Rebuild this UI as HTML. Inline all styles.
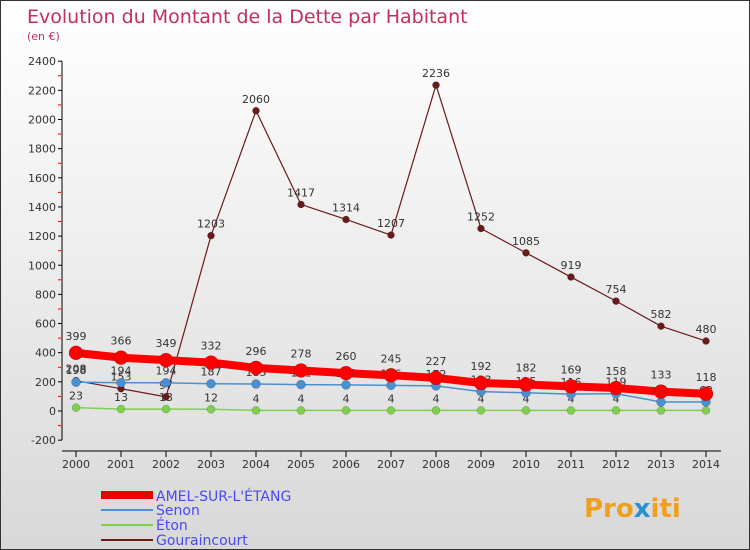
<!DOCTYPE html>
<html><head><meta charset="utf-8"><style>
body{margin:0;}
#wrap{position:relative;width:748px;height:548px;border:1px solid #333;background:linear-gradient(#fff 0%,#f4f4f4 30%,#d8d8d8 100%);font-family:"DejaVu Sans","Liberation Sans",sans-serif;overflow:hidden}
svg text{font-family:"DejaVu Sans","Liberation Sans",sans-serif}
</style></head><body>
<div id="wrap">
<svg id="c" width="748" height="548">
<text x="26" y="22" font-size="19" fill="#c0305a">Evolution du Montant de la Dette par Habitant</text>
<text x="26" y="39" font-size="11" fill="#c0305a">(en €)</text>
<g id="axes"></g><g id="series"></g>
<g>
<line x1="100" y1="494" x2="152" y2="494" stroke="#e00" stroke-width="8"/>
<text x="155" y="500" font-size="14" fill="#4a4aee">AMEL-SUR-L'ÉTANG</text>
<line x1="100" y1="509" x2="152" y2="509" stroke="#4a90d0" stroke-width="2"/>
<text x="155" y="514" font-size="14" fill="#4a4aee">Senon</text>
<line x1="100" y1="524" x2="152" y2="524" stroke="#80d050" stroke-width="2"/>
<text x="155" y="529" font-size="14" fill="#4a4aee">Éton</text>
<line x1="100" y1="539" x2="152" y2="539" stroke="#6b1a1a" stroke-width="2"/>
<text x="155" y="544" font-size="14" fill="#4a4aee">Gouraincourt</text>
</g>
<text x="583" y="516" font-size="26" font-weight="bold" fill="#f0a020">Pro<tspan fill="#2a90d0">x</tspan>iti</text>
</svg></div>
<script>
const years=[2000,2001,2002,2003,2004,2005,2006,2007,2008,2009,2010,2011,2012,2013,2014];
const yTicks=[-200,0,200,400,600,800,1000,1200,1400,1600,1800,2000,2200,2400];
const amel=[399,366,349,332,296,278,260,245,227,192,182,169,158,133,118];
const senon=[198,194,194,187,185,181,179,176,172,133,125,116,119,62,62];
const eton=[23,13,13,12,4,4,4,4,4,4,4,4,4,4,4];
const gour=[208,153,97,1203,2060,1417,1314,1207,2236,1252,1085,919,754,582,480];
const NS="http://www.w3.org/2000/svg";
const X=i=>75+i*45;
const Y=v=>410-v*(29.15/200);
function mk(t,a,p){const e=document.createElementNS(NS,t);for(const k in a)e.setAttribute(k,a[k]);p.appendChild(e);return e;}
const ax=document.getElementById('axes'),sr=document.getElementById('series');
let l=mk('line',{x1:61,y1:Y(2400),x2:61,y2:Y(-200),stroke:'#000'},ax);


yTicks.forEach(v=>{
 mk('line',{x1:57,y1:Y(v),x2:61,y2:Y(v),stroke:'#000'},ax);
 if(v<2400)mk('line',{x1:57,y1:Y(v+100),x2:60,y2:Y(v+100),stroke:'#e00'},ax);
 const t=mk('text',{x:55,y:Y(v)+4,'text-anchor':'end','font-size':11,fill:'#333'},ax);t.textContent=v;
 
 
});
l=mk('line',{x1:61,y1:450,x2:720,y2:450,stroke:'#000'},ax);


years.forEach((y,i)=>{
 mk('line',{x1:X(i),y1:450,x2:X(i),y2:456,stroke:'#000'},ax);
 const t=mk('text',{x:X(i),y:467,'text-anchor':'middle','font-size':11,fill:'#333'},ax);t.textContent=y;
 
 
});
function series(d,name,col,w,r,lblOff){
 const g=mk('g',{},sr);
 
 
 const pl=mk('polyline',{points:d.map((v,i)=>X(i)+','+Y(v)).join(' '),fill:'none',stroke:col,'stroke-width':w,'stroke-linejoin':'round'},g);
 
 
 d.forEach((v,i)=>{
  const c=mk('circle',{cx:X(i),cy:Y(v),r:r,fill:col,stroke:'rgba(0,0,0,0.3)','stroke-width':0.5},g);
  
  
  const t=mk('text',{x:X(i),y:Y(v)-lblOff,'text-anchor':'middle','font-size':11,fill:'#333'},g);t.textContent=v;
  
  
 });
}
series(gour,'gouraincourt','#6b1a1a',1.2,3.5,8);
series(eton,'eton','#80d050',1.5,4,8);
series(senon,'senon','#4a90d0',1.5,4.5,8);
series(amel,'amel','#f00',8,7,13);
</script>
</body></html>
